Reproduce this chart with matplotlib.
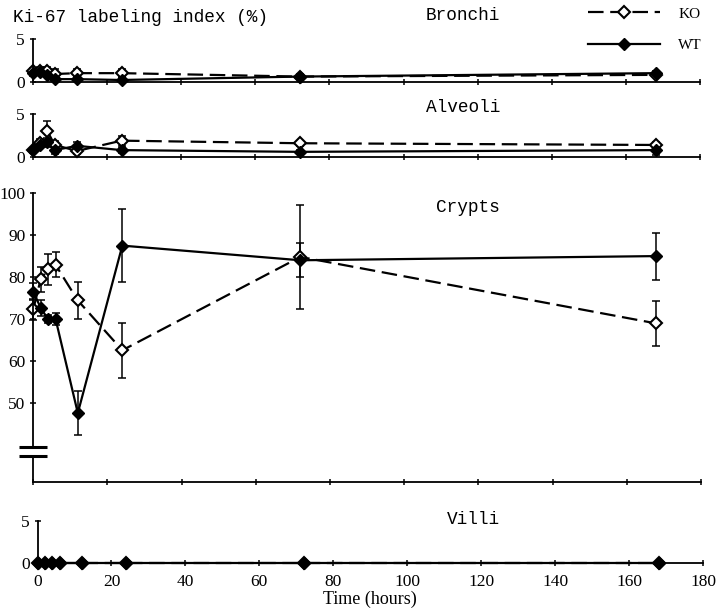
import matplotlib
matplotlib.use('Agg')
import matplotlib.pyplot as plt

# sampling times (hours)
time_h = [0, 2, 4, 6, 12, 24, 72, 168]

# Ki-67 labeling index (%), KO and WT, with error bars
bronchi_ko = [1.2, 1.3, 1.2, 0.9, 1.0, 1.0, 0.6, 0.8]
bronchi_ko_err = [0.4, 0.4, 0.5, 0.6, 0.5, 0.5, 0.3, 0.3]
bronchi_wt = [1.0, 1.1, 0.8, 0.3, 0.3, 0.2, 0.6, 1.0]
bronchi_wt_err = [0.3, 0.3, 0.3, 0.2, 0.2, 0.2, 0.2, 0.3]

alveoli_ko = [0.8, 1.6, 3.0, 1.4, 0.7, 1.9, 1.6, 1.4]
alveoli_ko_err = [0.3, 0.5, 1.2, 0.5, 0.3, 0.6, 0.3, 0.3]
alveoli_wt = [0.8, 1.4, 1.7, 0.8, 1.3, 0.8, 0.6, 0.8]
alveoli_wt_err = [0.3, 0.4, 0.5, 0.4, 0.4, 0.3, 0.2, 0.6]

crypts_ko = [72.3, 79.5, 81.8, 82.9, 74.4, 62.5, 84.8, 68.9]
crypts_ko_err = [2.5, 3.0, 3.6, 3.0, 4.5, 6.6, 12.5, 5.4]
crypts_wt = [76.5, 72.6, 69.9, 70.0, 47.5, 87.5, 84.0, 85.0]
crypts_wt_err = [2.0, 2.0, 1.0, 1.5, 5.3, 8.7, 4.1, 5.6]

villi_ko = [0, 0, 0, 0, 0, 0, 0, 0]
villi_wt = [0, 0, 0, 0, 0, 0, 0, 0]

x_ticks = list(range(0, 181, 20))
mono = 'Liberation Mono'
serif = 'Liberation Serif'

W, H = 720, 610
fig = plt.figure(figsize=(W / 100, H / 100), dpi=100)


def px_axes(left, right, top, bottom):
    # place an axes by pixel edges (top-left origin)
    return fig.add_axes([left / W, 1 - bottom / H, (right - left) / W, (bottom - top) / H])


def style_axes(ax, ylim, yticks, xlabels=False):
    ax.set_xlim(0, 180)
    ax.set_ylim(*ylim)
    ax.set_xticks(x_ticks)
    ax.set_yticks(yticks)
    ax.patch.set_alpha(0)
    for s in ('top', 'right'):
        ax.spines[s].set_visible(False)
    for s in ('left', 'bottom'):
        ax.spines[s].set_linewidth(1.3)
    ax.tick_params(direction='inout', length=5, width=1.1, pad=3)
    ax.tick_params(axis='y', labelsize=12.5)
    for t in ax.get_yticklabels():
        t.set_fontfamily(serif)
    if xlabels:
        ax.tick_params(axis='x', labelsize=12.5, pad=5)
        for t in ax.get_xticklabels():
            t.set_fontfamily(serif)
    else:
        ax.tick_params(axis='x', labelbottom=False)


def draw(ax, ko, wt, ko_err=None, wt_err=None):
    if ko_err is not None:
        ax.errorbar(time_h, ko, yerr=ko_err, fmt='none', ecolor='black',
                    elinewidth=1.1, capsize=3, capthick=1.1, clip_on=False)
    if wt_err is not None:
        ax.errorbar(time_h, wt, yerr=wt_err, fmt='none', ecolor='black',
                    elinewidth=1.1, capsize=3, capthick=1.1, clip_on=False)
    l_ko, = ax.plot(time_h, ko, color='black', lw=1.6, ls=(0, (7, 3)),
                    marker='D', ms=6.5, mfc='white', mec='black', mew=1.5,
                    clip_on=False, label='KO')
    l_wt, = ax.plot(time_h, wt, color='black', lw=1.6, ls='-',
                    marker='D', ms=6.5, mfc='black', mec='black',
                    clip_on=False, label='WT')
    return l_ko, l_wt


ax_b = px_axes(32.5, 700.3, 39, 81.7)
ax_a = px_axes(32.5, 700.3, 114, 157)
ax_c = px_axes(33.3, 701, 193.3, 481.7)
ax_v = px_axes(37.5, 703, 520.7, 563.3)

style_axes(ax_b, (0, 5), [0, 5])
style_axes(ax_a, (0, 5), [0, 5])
style_axes(ax_c, (31.1, 100), [50, 60, 70, 80, 90, 100])
style_axes(ax_v, (0, 5), [0, 5], xlabels=True)

h_ko, h_wt = draw(ax_b, bronchi_ko, bronchi_wt, bronchi_ko_err, bronchi_wt_err)
draw(ax_a, alveoli_ko, alveoli_wt, alveoli_ko_err, alveoli_wt_err)
draw(ax_c, crypts_ko, crypts_wt, crypts_ko_err, crypts_wt_err)
draw(ax_v, villi_ko, villi_wt)

# broken y axis on the crypts panel
ax_c.spines['left'].set_bounds(39.5, 100)
ax_c.plot([0, 0], [31.1, 37.3], color='black', lw=1.3, clip_on=False)
for yb in (37.3, 39.5):
    ax_c.plot([-3.8, 3.8], [yb, yb], color='black', lw=2.2, clip_on=False,
              solid_capstyle='butt')

ax_v.set_xlabel('Time (hours)', fontfamily=serif, fontsize=13, labelpad=1)

# panel titles
fig.text(13 / W, 1 - 18 / H, 'Ki-67 labeling index (%)', fontfamily=mono,
         fontsize=12.8, va='center', ha='left')
for name, yp in (('Bronchi', 15), ('Alveoli', 108), ('Crypts', 208), ('Villi', 519)):
    fig.text(500 / W, 1 - yp / H, name, fontfamily=mono, fontsize=12.8,
             va='center', ha='right')

fig.legend([h_ko, h_wt], ['KO', 'WT'], loc='upper left',
           bbox_to_anchor=(588 / W, 1 - 7 / H), frameon=False, numpoints=1,
           handlelength=4.7, handletextpad=1.2, labelspacing=1.15,
           borderpad=0, borderaxespad=0, prop={'family': serif, 'size': 11})

fig.savefig('out.png', dpi=100)
